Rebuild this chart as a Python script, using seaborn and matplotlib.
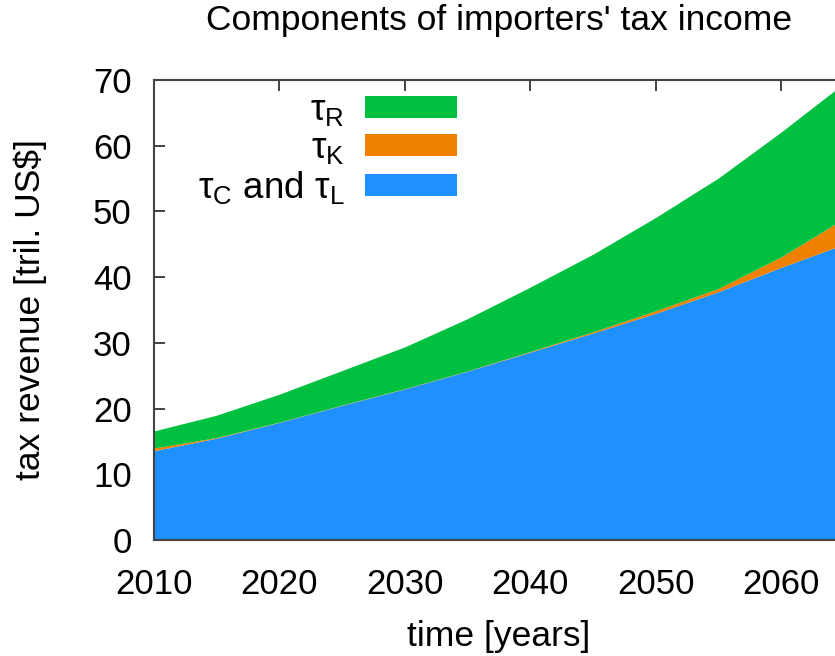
import numpy as np
import matplotlib
matplotlib.use("Agg")
import matplotlib.pyplot as plt
import seaborn as sns

# values, 5-year steps
years = [2010, 2015, 2020, 2025, 2030, 2035, 2040, 2045, 2050, 2055, 2060, 2065]
tau_cl = [13.6, 15.5, 17.9, 20.5, 23.0, 25.7, 28.6, 31.5, 34.5, 37.8, 41.5, 45.0]
tau_k = [0.4, 0.1, 0.05, 0.05, 0.05, 0.05, 0.1, 0.2, 0.4, 0.5, 1.6, 3.9]
tau_r = [2.6, 3.4, 4.25, 5.25, 6.35, 7.95, 9.8, 11.8, 14.2, 16.8, 19.0, 20.6]

labels = [r"$\mathrm{\tau}_\mathrm{C}$ and $\mathrm{\tau}_\mathrm{L}$",
          r"$\mathrm{\tau}_\mathrm{K}$",
          r"$\mathrm{\tau}_\mathrm{R}$"]
colors = ["#1e90ff", "#ef8000", "#00c040"]

x_ticks = [2010, 2020, 2030, 2040, 2050, 2060]
y_ticks = [0, 10, 20, 30, 40, 50, 60, 70]

sns.set_style("ticks")
plt.rcParams["font.family"] = ["Liberation Sans", "DejaVu Sans"]
plt.rcParams["mathtext.fontset"] = "custom"
plt.rcParams["mathtext.rm"] = "Liberation Sans"
plt.rcParams["mathtext.it"] = "Liberation Sans:italic"
plt.rcParams["text.color"] = "black"
plt.rcParams["axes.labelcolor"] = "black"
plt.rcParams["xtick.labelcolor"] = "black"
plt.rcParams["ytick.labelcolor"] = "black"

fig = plt.figure(figsize=(8.35, 6.56), dpi=100)
# axes runs a bit past the right edge of the figure, like the original crop
ax = fig.add_axes([154 / 835, 1 - 540 / 656, 690 / 835, 460 / 656])

ax.stackplot(years, tau_cl, tau_k, tau_r, colors=colors, labels=labels,
             linewidth=0)

ax.set_xlim(2010, 2065)
ax.set_ylim(0, 70)
ax.set_xticks(x_ticks)
ax.set_yticks(y_ticks)
ax.tick_params(direction="in", top=True, right=True, length=8, width=1.2,
               labelsize=25, color="#222222")
ax.tick_params(axis="y", pad=16)
ax.tick_params(axis="x", pad=20)
for side in ["left", "bottom", "top", "right"]:
    ax.spines[side].set_linewidth(1.5)
    ax.spines[side].set_color("#444444")

ax.set_xlabel("time [years]", fontsize=25.5, labelpad=14)
ax.set_ylabel("tax revenue [tril. US$]", fontsize=25.5, labelpad=33)
ax.set_title("Components of importers' tax income", fontsize=25.5, pad=36)

# legend: text on the left, colour bar on the right, reversed order
handles, labs = ax.get_legend_handles_labels()
ax.legend(handles[::-1], labs[::-1], loc="upper right",
          bbox_to_anchor=(457 / 835, 1 - 93 / 656), bbox_transform=fig.transFigure,
          frameon=False, markerfirst=False, fontsize=26.5,
          handlelength=2.5, handleheight=0.52, handletextpad=0.55,
          labelspacing=0.08, borderpad=0, borderaxespad=0)

fig.savefig("out.png", dpi=100)
